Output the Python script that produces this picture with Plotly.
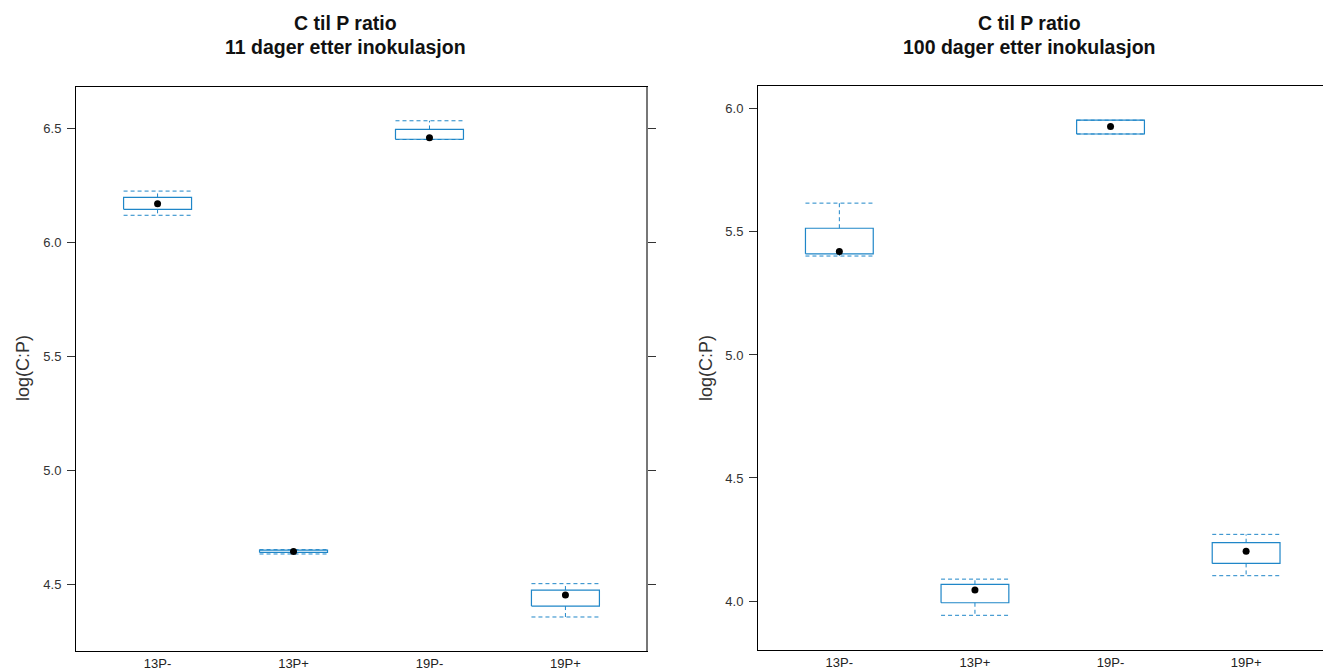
import plotly.graph_objects as go

categories = ["13P-", "13P+", "19P-", "19P+"]

# Panel 1: 11 dager etter inokulasjon
d11_low = [6.118, 4.634, 6.450, 4.358]
d11_q1 = [6.144, 4.641, 6.451, 4.406]
d11_med = [6.168, 4.645, 6.458, 4.454]
d11_q3 = [6.196, 4.651, 6.494, 4.476]
d11_high = [6.224, 4.653, 6.532, 4.504]

# Panel 2: 100 dager etter inokulasjon
d100_low = [5.402, 3.942, 5.898, 4.103]
d100_q1 = [5.411, 3.993, 5.898, 4.153]
d100_med = [5.420, 4.045, 5.928, 4.202]
d100_q3 = [5.515, 4.068, 5.954, 4.237]
d100_high = [5.617, 4.089, 5.954, 4.271]

titles = ["C til P ratio", "11 dager etter inokulasjon", "100 dager etter inokulasjon"]
ytitle = "log(C:P)"

BLUE = "#1f86c8"
HW = 0.25
FONT = "Arial, Liberation Sans, sans-serif"

fig = go.Figure()


def add_panel(low, q1, med, q3, high, xa, ya):
    pos = list(range(1, len(categories) + 1))
    rx, ry = [], []
    wx, wy = [], []
    cx, cy = [], []
    for p, lo, a, b, hi in zip(pos, low, q1, q3, high):
        rx += [p - HW, p + HW, p + HW, p - HW, p - HW, None]
        ry += [a, a, b, b, a, None]
        wx += [p, p, None, p, p, None]
        wy += [b, hi, None, a, lo, None]
        cx += [p - HW, p + HW, None, p - HW, p + HW, None]
        cy += [hi, hi, None, lo, lo, None]
    fig.add_trace(go.Scatter(x=wx, y=wy, mode="lines", xaxis=xa, yaxis=ya,
                             line=dict(color=BLUE, width=1, dash="4px,3px"),
                             showlegend=False, hoverinfo="skip"))
    fig.add_trace(go.Scatter(x=cx, y=cy, mode="lines", xaxis=xa, yaxis=ya,
                             line=dict(color=BLUE, width=1, dash="4px,3px"),
                             showlegend=False, hoverinfo="skip"))
    fig.add_trace(go.Scatter(x=rx, y=ry, mode="lines", xaxis=xa, yaxis=ya,
                             line=dict(color=BLUE, width=1.2),
                             showlegend=False, hoverinfo="skip"))
    fig.add_trace(go.Scatter(x=pos, y=med, mode="markers", xaxis=xa, yaxis=ya,
                             marker=dict(color="black", size=7),
                             showlegend=False))


add_panel(d11_low, d11_q1, d11_med, d11_q3, d11_high, "x", "y")
add_panel(d100_low, d100_q1, d100_med, d100_q3, d100_high, "x2", "y2")

W, H = 1323, 672

xcommon = dict(showgrid=False, zeroline=False, showline=True, mirror=True,
               linecolor="black", linewidth=1, ticks="",
               tickvals=list(range(1, len(categories) + 1)), ticktext=categories,
               tickfont=dict(family=FONT, size=13, color="#222"))
ycommon = dict(showgrid=False, zeroline=False, showline=True, mirror="ticks",
               linecolor="black", linewidth=1, ticks="outside", ticklen=8,
               tickcolor="#333", tickwidth=1, dtick=0.5, tickformat=".1f",
               ticklabelstandoff=3,
               tickfont=dict(family=FONT, size=13, color="#333"))

fig.update_layout(
    width=W, height=H, autosize=False,
    margin=dict(l=0, r=0, t=0, b=0),
    paper_bgcolor="white", plot_bgcolor="white",
    xaxis=dict(xcommon, domain=[76 / W, 647 / W], range=[0.4, 4.6], anchor="y"),
    yaxis=dict(ycommon, domain=[1 - 651 / H, 1 - 87 / H], range=[4.209, 6.680], anchor="x"),
    xaxis2=dict(xcommon, domain=[758 / W, 1.0], range=[0.4, 4.567], anchor="y2"),
    yaxis2=dict(ycommon, mirror=False, domain=[1 - 650 / H, 1 - 86 / H], range=[3.801, 6.093], anchor="x2"),
)

# right border of left panel in gray
fig.add_shape(type="line", xref="x domain", yref="y domain", x0=1, x1=1, y0=0, y1=1,
              line=dict(color="#777", width=2), layer="above")

ann = []
for cxp, sub in [(345, titles[1]), (1029, titles[2])]:
    ann.append(dict(text="<b>%s</b>" % titles[0], x=cxp / W, y=1 - 23 / H, xref="paper", yref="paper",
                    showarrow=False, xanchor="center", yanchor="middle",
                    font=dict(family=FONT, size=19.5, color="#111")))
    ann.append(dict(text="<b>%s</b>" % sub, x=cxp / W, y=1 - 47 / H, xref="paper", yref="paper",
                    showarrow=False, xanchor="center", yanchor="middle",
                    font=dict(family=FONT, size=19.5, color="#111")))
for xp in [23, 706]:
    ann.append(dict(text=ytitle, x=xp / W, y=1 - 368 / H, xref="paper", yref="paper",
                    showarrow=False, textangle=-90, xanchor="center", yanchor="middle",
                    font=dict(family=FONT, size=18, color="#333")))
fig.update_layout(annotations=ann)

fig.write_html("out.html", config={"responsive": False})
